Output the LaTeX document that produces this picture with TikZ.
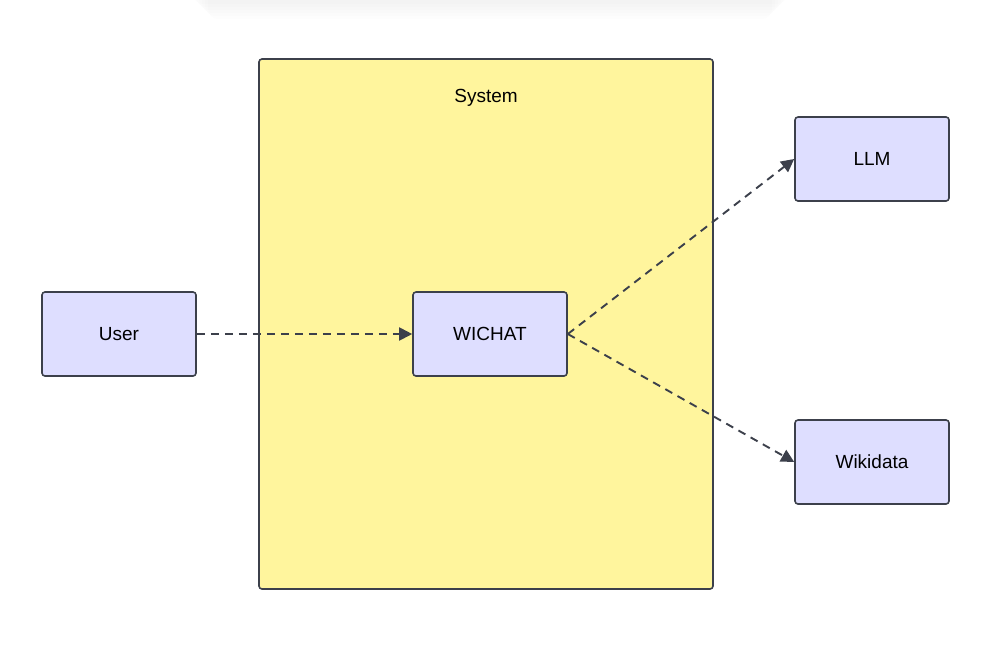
\documentclass[tikz,border=0pt]{standalone}
\usepackage{fontspec}
\setmainfont{Liberation Sans}
\usepackage{tikz}
\usetikzlibrary{arrows.meta,positioning}

\definecolor{edgegray}{RGB}{60,64,75}
\definecolor{nodefill}{RGB}{222,222,255}
\definecolor{sysfill}{RGB}{255,245,157}

\begin{document}
\begin{tikzpicture}[
    x=1pt, y=-1pt,
    box/.style={draw=edgegray, line width=1.6pt, fill=nodefill, rounded corners=3pt,
        minimum width=154pt, minimum height=84pt, font=\fontsize{19}{23}\selectfont},
    sysbox/.style={draw=edgegray, line width=1.6pt, fill=sysfill, rounded corners=3pt},
    flow/.style={draw=edgegray, line width=1.9pt, dash pattern=on 8pt off 6pt,
        -{Triangle[length=13pt, width=13pt]}}
]
\useasboundingbox (0,0) rectangle (984,657);

% faint shadow at the top edge
\foreach \i in {1,...,6}
  \fill[black, opacity=0.007, rounded corners=10pt]
      (190+3*\i,-20) rectangle (790-3*\i,1+3*\i);

% system boundary
\draw[sysbox] (259,59) rectangle (713,589);
\node[font=\fontsize{19}{23}\selectfont] (syslabel) at (486,98) {System};

\node[box] (wichat) at (490,334) {WICHAT};

\node[box] (user) at (119,334) {User};

\node[box] (llm) at (872,159) {LLM};
\node[box] (wiki) at (872,462) {Wikidata};

\draw[flow] (user.east) -- (wichat.west);
\draw[flow] (wichat.east) -- (llm.west);
\draw[flow] (wichat.east) -- (wiki.west);

\end{tikzpicture}
\end{document}
